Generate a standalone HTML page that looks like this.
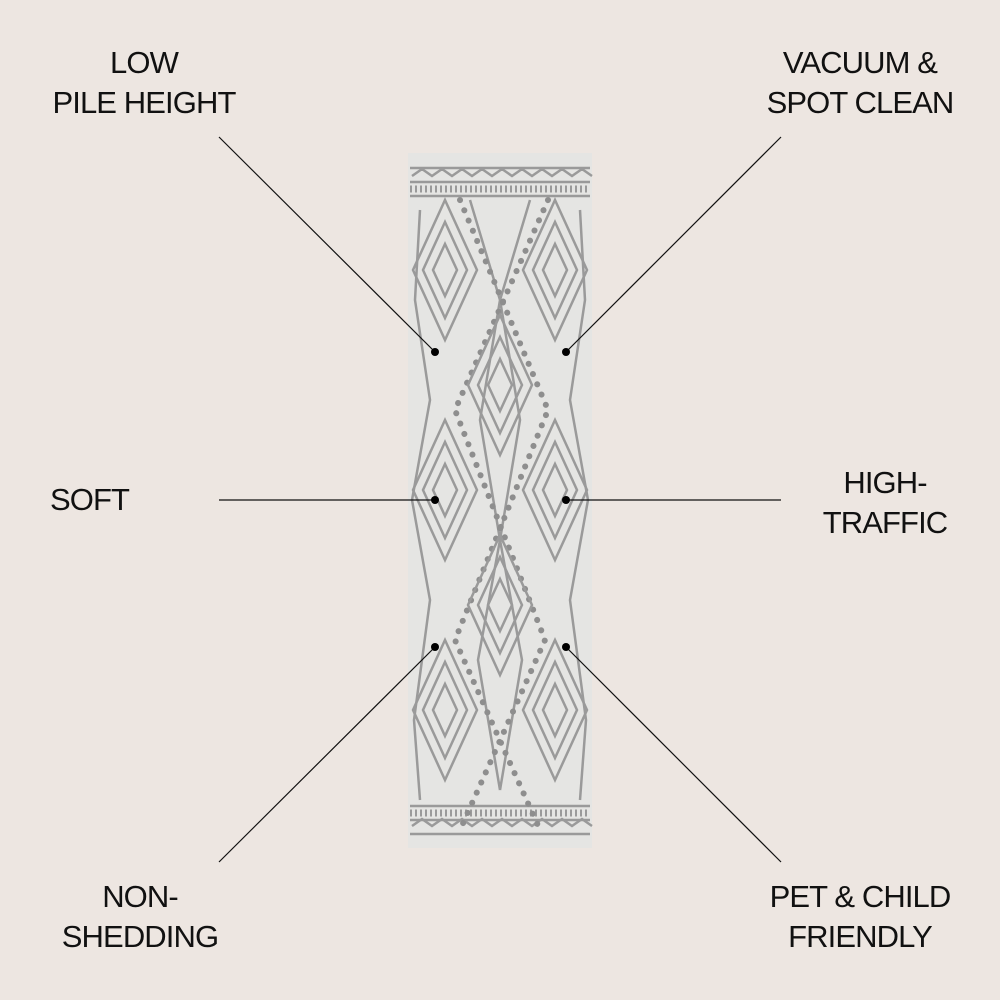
<!DOCTYPE html>
<html><head><style>
html,body{margin:0;padding:0;background:#ede6e1;}
body{width:1000px;height:1000px;position:relative;overflow:hidden;font-family:"Liberation Sans",sans-serif;color:#111;}
.t{position:absolute;font-size:31px;line-height:40px;letter-spacing:-0.9px;}
</style></head><body>
<svg width="1000" height="1000" style="position:absolute;left:0;top:0">
<defs>
<g id="dia" fill="none" stroke="#9a9a9a" stroke-width="2.5">
<path d="M0,-70 L32,0 L0,70 L-32,0Z"/>
<path d="M0,-48 L22,0 L0,48 L-22,0Z"/>
<path d="M0,-26 L12,0 L0,26 L-12,0Z"/>
</g>
</defs>
<rect x="408" y="153" width="184" height="695" fill="#e5e5e3"/>
<g stroke="#9a9a9a" fill="none" stroke-width="2.5">
<path d="M410,168 L590,168 M410,182 L590,182 M410,196 L590,196 M410,834 L590,834 M410,820 L590,820 M410,806 L590,806"/>
<path d="M412,176 l10,-7 l10,7 l10,-7 l10,7 l10,-7 l10,7 l10,-7 l10,7 l10,-7 l10,7 l10,-7 l10,7 l10,-7 l10,7 l10,-7 l10,7 l10,-7 l10,7"/>
<path d="M412,826 l10,-7 l10,7 l10,-7 l10,7 l10,-7 l10,7 l10,-7 l10,7 l10,-7 l10,7 l10,-7 l10,7 l10,-7 l10,7 l10,-7 l10,7 l10,-7 l10,7"/>
<path d="M410,189 L590,189 M410,813 L590,813" stroke-dasharray="2 3" stroke-width="7"/>
<path d="M470,200 L500,300 L480,420 L500,540 L478,660 L500,790 M530,200 L500,300 L520,420 L500,540 L522,660 L500,790"/>
<path d="M420,210 L415,300 L430,400 L412,500 L430,600 L414,720 L420,800 M580,210 L585,300 L570,400 L588,500 L570,600 L586,720 L580,800"/>
</g>
<g stroke="#8e8e8e" stroke-width="6" stroke-linecap="round" fill="none" stroke-dasharray="0.1 11">
<path d="M460,200 L548,410 L455,640 L540,830"/>
<path d="M548,200 L455,410 L545,640 L460,830"/>
</g>
<use href="#dia" x="500" y="385"/>
<use href="#dia" x="500" y="605"/>
<use href="#dia" x="445" y="270"/>
<use href="#dia" x="555" y="270"/>
<use href="#dia" x="445" y="490"/>
<use href="#dia" x="555" y="490"/>
<use href="#dia" x="445" y="710"/>
<use href="#dia" x="555" y="710"/>
<g stroke="#111" stroke-width="1.2">
<line x1="219" y1="137" x2="435" y2="352"/>
<line x1="781" y1="137" x2="566" y2="352"/>
<line x1="219" y1="500" x2="435" y2="500"/>
<line x1="566" y1="500" x2="781" y2="500"/>
<line x1="219" y1="862" x2="435" y2="647"/>
<line x1="781" y1="862" x2="566" y2="647"/>
</g>
<g fill="#000">
<circle cx="435" cy="352" r="4"/><circle cx="566" cy="352" r="4"/>
<circle cx="435" cy="500" r="4"/><circle cx="566" cy="500" r="4"/>
<circle cx="435" cy="647" r="4"/><circle cx="566" cy="647" r="4"/>
</g>
</svg>
<div class="t" style="left:24px;width:240px;top:43px;text-align:center">LOW<br>PILE HEIGHT</div>
<div class="t" style="left:730px;width:260px;top:43px;text-align:center">VACUUM &amp;<br>SPOT CLEAN</div>
<div class="t" style="left:50px;top:480px">SOFT</div>
<div class="t" style="left:810px;top:463px;text-align:center;width:150px">HIGH-<br>TRAFFIC</div>
<div class="t" style="left:30px;width:220px;top:877px;text-align:center">NON-<br>SHEDDING</div>
<div class="t" style="left:730px;width:260px;top:877px;text-align:center">PET &amp; CHILD<br>FRIENDLY</div>
</body></html>
